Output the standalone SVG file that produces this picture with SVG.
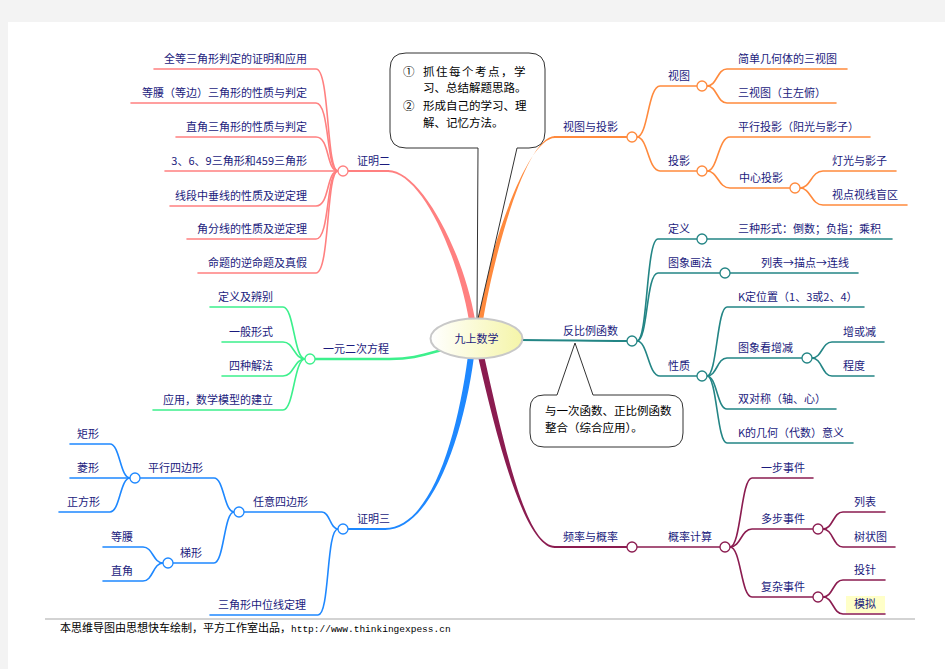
<svg xmlns="http://www.w3.org/2000/svg" width="945" height="669" viewBox="0 0 945 669">
<style>
text{font-family:"Noto Sans CJK SC","Liberation Sans",sans-serif;font-size:11px;fill:#1b1b7d}
.e{text-anchor:end}
.c{text-anchor:middle}
.k{fill:#000;font-size:11.5px}
.ln{fill:none;stroke-width:1.6;stroke-linecap:round}
.mn{fill:none;stroke-width:2}
.pk{stroke:#ff8080}.pkf{fill:#ff8080}
.or{stroke:#ff8a3d}.orf{fill:#ff8a3d}
.tl{stroke:#238585}
.gr{stroke:#3cf08c}
.bl{stroke:#1e88ff}.blf{fill:#1e88ff}
.mr{stroke:#8b1c50}.mrf{fill:#8b1c50}
.dot{fill:#fff;stroke-width:1.3}
.call{fill:#fff;stroke:#333;stroke-width:1}
</style>
<defs>
<linearGradient id="cg" x1="0" y1="0" x2="1" y2="0">
<stop offset="0" stop-color="#ffffff"/>
<stop offset="1" stop-color="#f5f5a8"/>
</linearGradient>
</defs>
<rect x="0" y="0" width="945" height="669" fill="#f3f3f3"/>
<rect x="8" y="22" width="937" height="647" fill="#fff"/>

<g id="connectors">
<path class="pkf" d="M 475 319.6 C 463 249.6 420 170 388 170 L 388 172 C 420 172 457 250.4 469 320.4 Z"/>
<path class="mn pk" d="M 389 171 H 348"/>
<path class="orf" d="M 483 320.5 C 493 260.5 525 136 555 136 L 555 138 C 525 138 487 259.5 477 319.5 Z"/>
<path class="mn or" d="M 554 137 H 627"/>
<path class="mn tl" d="M 520 340 C 560 340 590 341 627 341"/>
<path class="gr" fill="none" stroke-width="2.6" d="M 442 350 C 420 356 410 359 390 359 H 315"/>
<path class="blf" d="M 468 355.6 C 457 439.6 430 528 385 528 L 385 530 C 430 530 463 440.4 474 356.4 Z"/>
<path class="mn bl" d="M 386 529 H 348"/>
<path class="mrf" d="M 478 356.6 C 497 440.6 525 548 555 548 L 555 546 C 525 546 503 439.4 484 355.4 Z"/>
<path class="mn mr" d="M 554 547 H 627"/>

<path class="ln pk" d="M 338 171 C 326 171 330 69 316 69 H 154"/>
<path class="ln pk" d="M 338 171 C 326 171 330 103 316 103 H 131"/>
<path class="ln pk" d="M 338 171 C 326 171 330 137 316 137 H 176"/>
<path class="ln pk" d="M 338 171 H 165"/>
<path class="ln pk" d="M 338 171 C 326 171 330 206 316 206 H 170"/>
<path class="ln pk" d="M 338 171 C 326 171 330 239 316 239 H 187"/>
<path class="ln pk" d="M 338 171 C 326 171 330 273 316 273 H 198"/>

<path class="ln or" d="M 637 137 C 648 137 648 86 660 86 H 697"/>
<path class="ln or" d="M 637 137 C 648 137 648 171 660 171 H 697"/>
<path class="ln or" d="M 707 86 C 717 86 717 69 727 69 H 847"/>
<path class="ln or" d="M 707 86 C 717 86 717 103 727 103 H 836"/>
<path class="ln or" d="M 707 171 C 718 171 718 137 730 137 H 870"/>
<path class="ln or" d="M 707 171 C 718 171 718 188 730 188 H 790"/>
<path class="ln or" d="M 800 188 C 811 188 811 171 823 171 H 896"/>
<path class="ln or" d="M 800 188 C 811 188 811 205 823 205 H 907"/>

<path class="ln tl" d="M 637 341 C 648 341 646 239 658 239 H 697"/>
<path class="ln tl" d="M 707 239 H 892"/>
<path class="ln tl" d="M 637 341 C 648 341 646 273 658 273 H 720"/>
<path class="ln tl" d="M 730 273 H 858"/>
<path class="ln tl" d="M 637 341 C 648 341 648 376 660 376 H 697"/>
<path class="ln tl" d="M 707 376 C 717 376 717 307 727 307 H 864"/>
<path class="ln tl" d="M 707 376 C 717 376 717 358 727 358 H 802"/>
<path class="ln tl" d="M 707 376 C 717 376 717 409 727 409 H 836"/>
<path class="ln tl" d="M 707 376 C 717 376 717 443 727 443 H 853"/>
<path class="ln tl" d="M 812 358 C 822 358 822 342 832 342 H 884"/>
<path class="ln tl" d="M 812 358 C 822 358 822 376 832 376 H 874"/>

<path class="ln gr" d="M 305 359 C 294 359 294 307 283 307 H 210"/>
<path class="ln gr" d="M 305 359 C 294 359 294 342 283 342 H 222"/>
<path class="ln gr" d="M 305 359 C 294 359 294 376 283 376 H 222"/>
<path class="ln gr" d="M 305 359 C 294 359 294 410 283 410 H 153"/>

<path class="ln bl" d="M 338 529 C 330 529 330 512 322 512 H 244"/>
<path class="ln bl" d="M 338 529 C 326 529 330 615 318 615 H 210"/>
<path class="ln bl" d="M 234 512 C 224 512 224 478 214 478 H 140"/>
<path class="ln bl" d="M 234 512 C 224 512 224 563 214 563 H 173"/>
<path class="ln bl" d="M 130 478 C 120 478 120 444 110 444 H 70"/>
<path class="ln bl" d="M 130 478 H 70"/>
<path class="ln bl" d="M 130 478 C 120 478 120 512 110 512 H 59"/>
<path class="ln bl" d="M 163 563 C 153 563 153 547 143 547 H 103"/>
<path class="ln bl" d="M 163 563 C 153 563 153 581 143 581 H 103"/>

<path class="ln mr" d="M 637 547 H 720"/>
<path class="ln mr" d="M 730 547 C 741 547 741 478 752 478 H 813"/>
<path class="ln mr" d="M 730 547 C 741 547 741 529 752 529 H 813"/>
<path class="ln mr" d="M 730 547 C 741 547 741 597 752 597 H 813"/>
<path class="ln mr" d="M 823 529 C 833 529 833 512 843 512 H 885"/>
<path class="ln mr" d="M 823 529 C 833 529 833 547 843 547 H 895"/>
<path class="ln mr" d="M 823 597 C 833 597 833 580 843 580 H 885"/>
<path class="ln mr" d="M 823 597 C 833 597 833 614 843 614 H 885"/>
</g>

<g id="callout-top">
<path class="call" d="M 406 53 H 529 Q 545 53 545 69 V 132 Q 545 148 529 148 H 517 L 477 323 L 478 148 H 406 Q 390 148 390 132 V 69 Q 390 53 406 53 Z"/>
<text class="k" x="403" y="76">①</text>
<text class="k" x="423" y="76" letter-spacing="1.5">抓住每个考点，学</text>
<text class="k" x="423" y="92">习、总结解题思路。</text>
<text class="k" x="403" y="110">②</text>
<text class="k" x="423" y="110">形成自己的学习、理</text>
<text class="k" x="423" y="127">解、记忆方法。</text>
</g>

<g id="callout-bottom">
<path class="call" d="M 544 395 H 557 L 575 343 L 593 395 H 669 Q 683 395 683 409 V 433 Q 683 447 669 447 H 544 Q 530 447 530 433 V 409 Q 530 395 544 395 Z"/>
<text class="k" x="545" y="415">与一次函数、正比例函数</text>
<text class="k" x="545" y="432">整合（综合应用）。</text>
</g>

<g id="center">
<ellipse cx="476.5" cy="338.5" rx="46" ry="20" fill="url(#cg)" stroke="#c8c8c8" stroke-width="2"/>
<text class="c" x="476.5" y="342.5">九上数学</text>
</g>

<g id="zhengming2">
<circle class="dot pk" cx="343" cy="171" r="5"/>
<text x="357" y="165">证明二</text>
</g>
<g id="zm2-children">
<text class="e" x="307" y="63">全等三角形判定的证明和应用</text>
<text class="e" x="307" y="97">等腰（等边）三角形的性质与判定</text>
<text class="e" x="307" y="131">直角三角形的性质与判定</text>
<text class="e" x="307" y="165">3、6、9三角形和459三角形</text>
<text class="e" x="307" y="200">线段中垂线的性质及逆定理</text>
<text class="e" x="307" y="233">角分线的性质及逆定理</text>
<text class="e" x="307" y="267">命题的逆命题及真假</text>
</g>

<g id="shitu-touying">
<circle class="dot or" cx="632" cy="137" r="5"/>
<text x="563" y="131">视图与投影</text>
</g>
<g id="shitu">
<circle class="dot or" cx="702" cy="86" r="5"/>
<text x="668" y="80">视图</text>
<text x="738" y="63">简单几何体的三视图</text>
<text x="738" y="97">三视图（主左俯）</text>
</g>
<g id="touying">
<circle class="dot or" cx="702" cy="171" r="5"/>
<text x="668" y="165">投影</text>
<text x="738" y="131">平行投影（阳光与影子）</text>
</g>
<g id="zhongxin-touying">
<circle class="dot or" cx="795" cy="188" r="5"/>
<text x="739" y="182">中心投影</text>
<text x="832" y="165">灯光与影子</text>
<text x="832" y="199">视点视线盲区</text>
</g>

<g id="fanbili">
<circle class="dot tl" cx="632" cy="341" r="5"/>
<text x="563" y="335">反比例函数</text>
</g>
<g id="dingyi">
<circle class="dot tl" cx="702" cy="239" r="5"/>
<text x="668" y="233">定义</text>
<text x="738" y="233">三种形式：倒数；负指；乘积</text>
</g>
<g id="huafa">
<circle class="dot tl" cx="725" cy="273" r="5"/>
<text x="668" y="267">图象画法</text>
<text x="761" y="267">列表→描点→连线</text>
</g>
<g id="xingzhi">
<circle class="dot tl" cx="702" cy="376" r="5"/>
<text x="668" y="370">性质</text>
<text x="738" y="301">K定位置（1、3或2、4）</text>
<text x="738" y="403">双对称（轴、心）</text>
<text x="738" y="437">K的几何（代数）意义</text>
</g>
<g id="zengjian">
<circle class="dot tl" cx="807" cy="358" r="5"/>
<text x="738" y="352">图象看增减</text>
<text x="843" y="336">增或减</text>
<text x="843" y="370">程度</text>
</g>

<g id="yiyuan">
<circle class="dot gr" cx="310" cy="359" r="5"/>
<text x="323" y="353">一元二次方程</text>
<text class="e" x="273" y="301">定义及辨别</text>
<text class="e" x="273" y="336">一般形式</text>
<text class="e" x="273" y="370">四种解法</text>
<text class="e" x="273" y="404">应用，数学模型的建立</text>
</g>

<g id="zhengming3">
<circle class="dot bl" cx="343" cy="529" r="5"/>
<text x="357" y="523">证明三</text>
<text x="218" y="609">三角形中位线定理</text>
</g>
<g id="renyi">
<circle class="dot bl" cx="239" cy="512" r="5"/>
<text x="253" y="506">任意四边形</text>
</g>
<g id="pingxing">
<circle class="dot bl" cx="135" cy="478" r="5"/>
<text x="148" y="472">平行四边形</text>
<text x="77" y="438">矩形</text>
<text x="77" y="472">菱形</text>
<text x="67" y="506">正方形</text>
</g>
<g id="tixing">
<circle class="dot bl" cx="168" cy="563" r="5"/>
<text x="180" y="557">梯形</text>
<text x="111" y="541">等腰</text>
<text x="111" y="575">直角</text>
</g>

<g id="pinlv">
<circle class="dot mr" cx="632" cy="547" r="5"/>
<text x="563" y="541">频率与概率</text>
</g>
<g id="gailv">
<circle class="dot mr" cx="725" cy="547" r="5"/>
<text x="668" y="541">概率计算</text>
<text x="761" y="472">一步事件</text>
</g>
<g id="duobu">
<circle class="dot mr" cx="818" cy="529" r="5"/>
<text x="761" y="523">多步事件</text>
<text x="854" y="506">列表</text>
<text x="854" y="541">树状图</text>
</g>
<g id="fuza">
<circle class="dot mr" cx="818" cy="597" r="5"/>
<text x="761" y="591">复杂事件</text>
<text x="854" y="574">投针</text>
<rect x="846" y="596" width="39" height="17" fill="#ffffc8"/>
<text x="854" y="608">模拟</text>
</g>

<g id="footer">
<line x1="45" y1="619" x2="915" y2="619" stroke="#c4c4c4" stroke-width="1.5"/>
<text x="60" y="632" style="fill:#000;font-size:11px">本思维导图由思想快车绘制，平方工作室出品，<tspan style="font-family:'Liberation Mono',monospace;font-size:9.5px">http://www.thinkingexpess.cn</tspan></text>
</g>
</svg>
